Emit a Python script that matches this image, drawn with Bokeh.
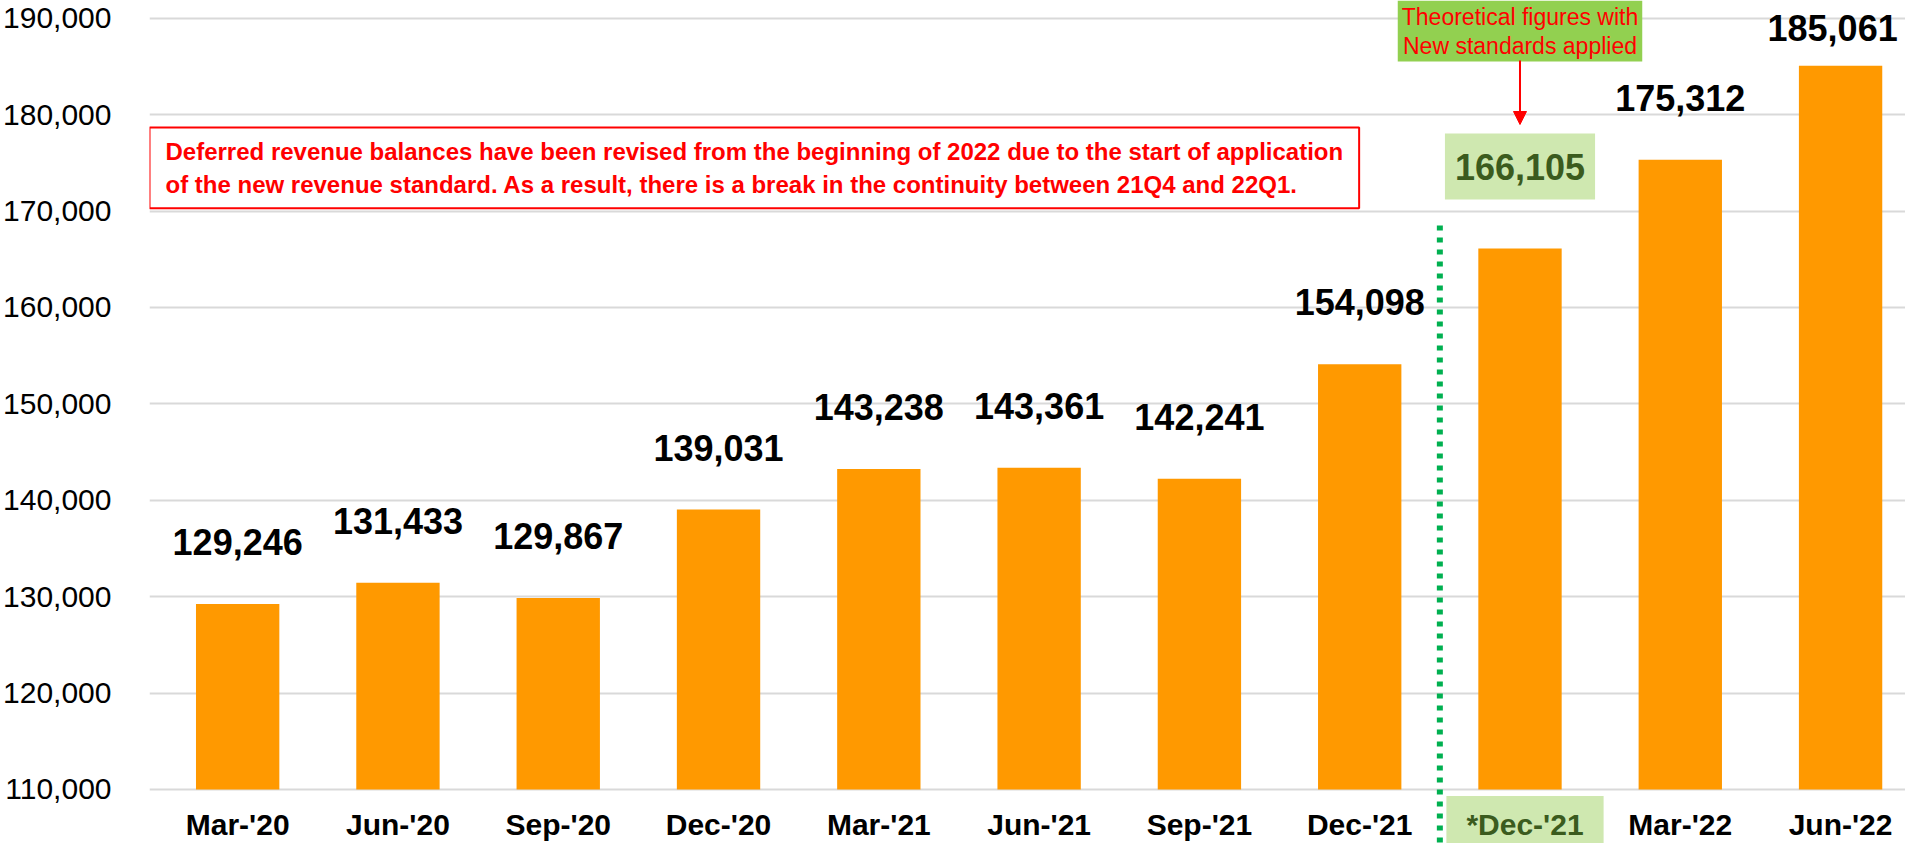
from bokeh.plotting import figure
from bokeh.models import (Range1d, FixedTicker, NumeralTickFormatter, Label, Arrow,
                          NormalHead, ColumnDataSource)
from bokeh.embed import file_html
from bokeh.resources import INLINE
from bokeh.core.properties import value

# ---- data ----
categories = ["Mar-'20", "Jun-'20", "Sep-'20", "Dec-'20", "Mar-'21", "Jun-'21",
              "Sep-'21", "Dec-'21", "*Dec-'21", "Mar-'22", "Jun-'22"]
balances = [129246, 131433, 129867, 139031, 143238, 143361, 142241, 154098,
            166105, 175312, 185061]
theoretical_index = 8
y_ticks = [110000, 120000, 130000, 140000, 150000, 160000, 170000, 180000, 190000]
note_text = ("Deferred revenue balances have been revised from the beginning of 2022 due to the start of application\n"
             "of the new revenue standard. As a result, there is a break in the continuity between 21Q4 and 22Q1.")
theory_text = "Theoretical figures with\nNew standards applied"

FONT = "Liberation Sans"
ORANGE = "#FF9900"

# ---- layout helpers (figure pixels) ----
W, H = 1905, 843
LEFT = 146
BASE = 110000
Y_END = 191836
Y_START = 104399
X_START = -0.55
X_END = 10.405
PX_PER_UNIT = H / (Y_END - Y_START)
FRAME_W = W - LEFT
PX_PER_CAT = FRAME_W / (X_END - X_START)


def yval(fig_px):
    """data value at a vertical figure-pixel position (0 = top)"""
    return Y_END - fig_px / PX_PER_UNIT


xs = list(range(len(categories)))
fmt = [f"{v:,}" for v in balances]

normal = [i for i in xs if i != theoretical_index]
gaps, dxs = [], []
for i in normal:
    top_px = (Y_END - balances[i]) * PX_PER_UNIT
    gaps.append(-min(62, top_px - 28))
    right_px = (i - X_START) * PX_PER_CAT + 66
    dxs.append(min(0, FRAME_W - 7 - right_px))
src = ColumnDataSource(dict(x=[xs[i] for i in normal],
                            y=[balances[i] for i in normal],
                            t=[fmt[i] for i in normal],
                            off=gaps, dx=dxs))
src_all = ColumnDataSource(dict(x=xs, y=balances))
src_th = ColumnDataSource(dict(x=[xs[theoretical_index]], y=[balances[theoretical_index]],
                               t=[fmt[theoretical_index]]))

p = figure(width=W, height=H, output_backend="svg", toolbar_location=None,
           x_range=Range1d(X_START, X_END),
           y_range=Range1d(Y_START, Y_END))
p.min_border_left = LEFT
p.min_border_right = 0
p.min_border_top = 0
p.min_border_bottom = 0
p.outline_line_color = None
p.background_fill_color = "white"

p.vbar(x="x", top="y", bottom=BASE, width=0.52, source=src_all,
       fill_color=ORANGE, line_color=None)

# value labels
p.text(x="x", y="y", text="t", source=src, text_align="center",
       text_baseline="alphabetic", y_offset="off", x_offset="dx",
       text_font=value(FONT), text_font_style="bold",
       text_font_size="36px", text_color="black")
p.text(x="x", y="y", text="t", source=src_th, text_align="center",
       text_baseline="middle", y_offset=-82, text_font=value(FONT),
       text_font_style="bold", text_font_size="36px", text_color="#3B5B1E",
       background_fill_color="#CFE8B0", padding=(10, 20))

# axes
p.xaxis.fixed_location = BASE
p.xaxis.ticker = FixedTicker(ticks=xs)
overrides = {i: c for i, c in enumerate(categories)}
overrides[theoretical_index] = ""
p.xaxis.major_label_overrides = overrides
p.xaxis.axis_line_color = None
p.xaxis.major_tick_line_color = None
p.xaxis.minor_tick_line_color = None
p.xaxis.major_tick_out = 0
p.xaxis.major_label_text_font = FONT
p.xaxis.major_label_text_font_style = "bold"
p.xaxis.major_label_text_font_size = "30px"
p.xaxis.major_label_text_color = "black"
p.xaxis.major_label_standoff = 19

p.yaxis.ticker = FixedTicker(ticks=y_ticks)
p.yaxis.formatter = NumeralTickFormatter(format="0,0")
p.yaxis.axis_line_color = None
p.yaxis.major_tick_line_color = None
p.yaxis.minor_tick_line_color = None
p.yaxis.major_tick_out = 0
p.yaxis.major_label_text_font = FONT
p.yaxis.major_label_text_font_size = "30px"
p.yaxis.major_label_text_color = "black"
p.yaxis.major_label_standoff = 38

p.xgrid.grid_line_color = None
p.ygrid.grid_line_color = "#D9D9D9"
p.ygrid.grid_line_width = 2

# dotted separator
p.add_layout(Arrow(x_start=theoretical_index - 0.5, y_start=yval(225),
                   x_end=theoretical_index - 0.5, y_end=Y_START, end=None,
                   line_color="#00B050", line_width=6, line_dash="5 7"))

# theoretical label on x axis
p.add_layout(Label(x=theoretical_index, y=yval(824), x_offset=5,
                   text=categories[theoretical_index],
                   text_align="center", text_baseline="middle",
                   text_font=FONT, text_font_style="bold", text_font_size="30px",
                   text_color="#3B5B1E", background_fill_color="#CFE8B0",
                   padding=(20, 12)))

# theoretical figures callout
p.add_layout(Label(x=theoretical_index, y=Y_END, text=theory_text,
                   text_align="center", text_baseline="top",
                   text_font=FONT, text_font_size="23px", text_color="#FF0000",
                   text_line_height=1.12,
                   background_fill_color="#92D050", padding=(4, 3)))
p.add_layout(Arrow(x_start=theoretical_index, y_start=yval(60),
                   x_end=theoretical_index, y_end=yval(124),
                   line_color="#FF0000", line_width=2,
                   end=NormalHead(size=13, fill_color="#FF0000", line_color="#FF0000")))

# note box
p.add_layout(Label(x=X_START, y=yval(127), text=note_text,
                   text_align="left", text_baseline="top",
                   text_font=FONT, text_font_style="bold", text_font_size="24px",
                   text_color="#FF0000", text_line_height=1.25,
                   background_fill_color="white", border_line_color="#FF0000",
                   border_line_width=2, padding=(16, 10)))

open("out.html", "w").write(file_html(p, INLINE))
